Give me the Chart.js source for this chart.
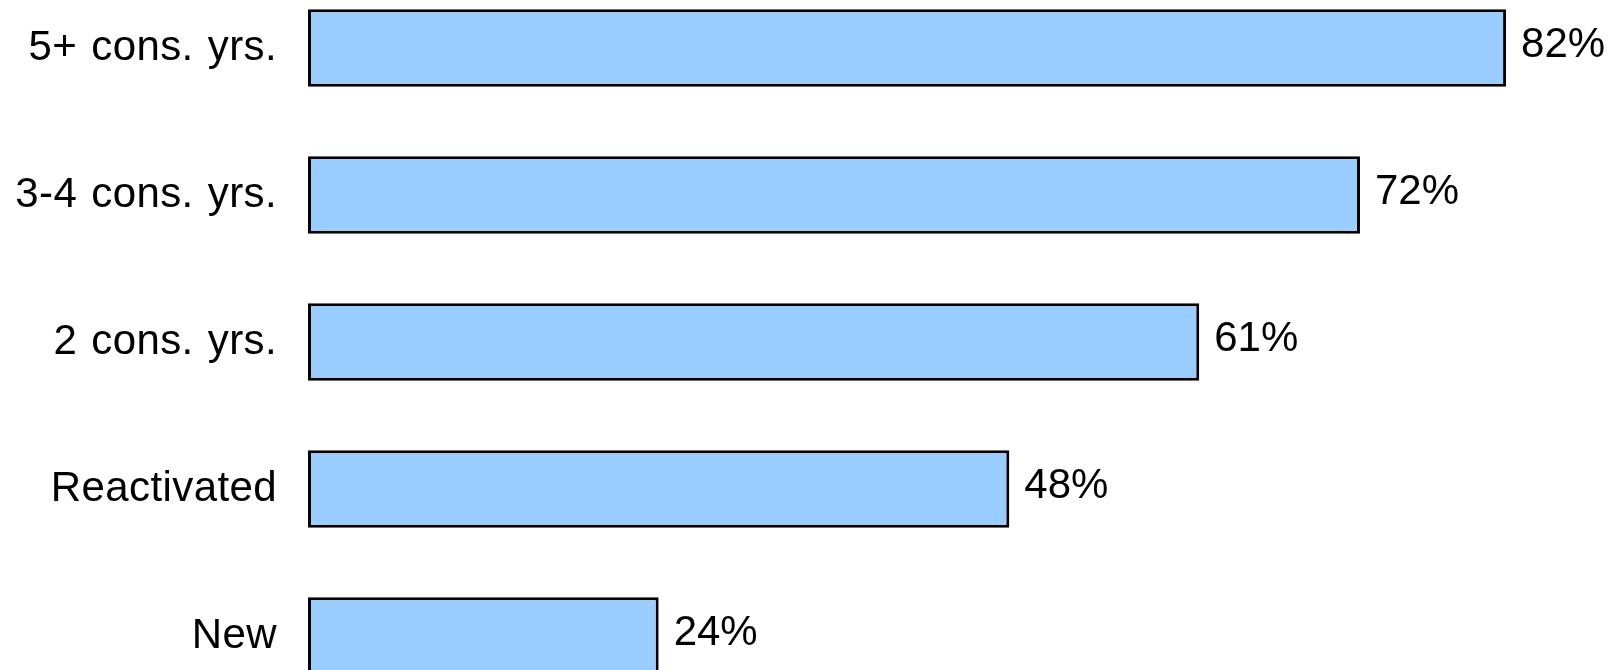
<!DOCTYPE html>
<html>
<head>
<meta charset="utf-8">
<script src="https://cdn.jsdelivr.net/npm/chart.js@4/dist/chart.umd.min.js"></script>
<style>
  html, body { margin: 0; padding: 0; background: #fff; }
  canvas { display: block; }
</style>
</head>
<body>
<canvas id="retentionChart" width="1618" height="670"></canvas>
<script>
const groups = ["5+ cons. yrs.", "3-4 cons. yrs.", "2 cons. yrs.", "Reactivated", "New"];
const retention = [82, 72, 61, 48, 24];

const FONT = "'Liberation Sans', Arial, sans-serif";

// slightly looser spacing for the category names
const textSpacing = {
  id: "textSpacing",
  beforeDraw(chart) {
    chart.ctx.letterSpacing = "0.4px";
    chart.ctx.wordSpacing = "2px";
  },
};

// prints "NN%" just past the end of each bar
const valueLabels = {
  id: "valueLabels",
  afterDatasetsDraw(chart) {
    const { ctx } = chart;
    const meta = chart.getDatasetMeta(0);
    ctx.save();
    ctx.letterSpacing = "0px";
    ctx.wordSpacing = "0px";
    ctx.font = "42px " + FONT;
    ctx.fillStyle = "#000";
    ctx.textAlign = "left";
    ctx.textBaseline = "middle";
    meta.data.forEach((bar, i) => {
      ctx.fillText(retention[i] + "%", bar.x + 15, bar.y - 3);
    });
    ctx.restore();
  },
};

const ctx = document.getElementById("retentionChart").getContext("2d");
new Chart(ctx, {
  type: "bar",
  data: {
    labels: groups,
    datasets: [
      {
        data: retention,
        backgroundColor: "#99CCFF",
        borderColor: "#000",
        borderWidth: 3,
        borderSkipped: false,
        barPercentage: 0.527,
        categoryPercentage: 1,
        clip: false,
      },
    ],
  },
  options: {
    indexAxis: "y",
    responsive: false,
    animation: false,
    layout: { padding: { top: 48, bottom: 34, left: 0, right: 0 } },
    plugins: {
      legend: { display: false },
      tooltip: { enabled: false },
    },
    scales: {
      x: {
        display: false,
        min: 0,
        max: 89.66,
      },
      y: {
        offset: false,
        grid: { display: false, drawTicks: false },
        border: { display: false },
        ticks: {
          color: "#000",
          padding: 31,
          font: { family: FONT, size: 42 },
        },
        afterFit(scale) {
          scale.width = 308;
          scale.paddingTop = 0;
          scale.paddingBottom = 0;
        },
      },
    },
  },
  plugins: [textSpacing, valueLabels],
});
</script>
</body>
</html>
